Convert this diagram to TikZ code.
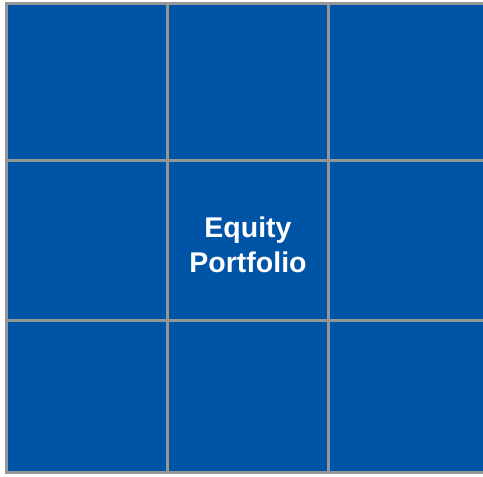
\documentclass[tikz,border=0pt]{standalone}
\usepackage{fontspec}
\setmainfont{Liberation Sans}
\definecolor{cellblue}{RGB}{0,84,166}
\definecolor{gridgray}{RGB}{150,150,150}
\begin{document}
\begin{tikzpicture}[x=1bp,y=-1bp,
  cell/.style={draw=gridgray,line width=3bp,fill=cellblue,inner sep=0pt,outer sep=0pt},
  celltext/.style={text=white,font=\bfseries\fontsize{28.6}{34.5}\selectfont,align=center}]
\useasboundingbox (0,0) rectangle (483,477);
\clip (0,0) rectangle (483,477);
% 3x3 grid of cells; column edges 6.5/167.5/328.5/489.5, row edges 3.5/160.5/320.5/472
\path[cell] (6.5,3.5) rectangle (167.5,160.5) node[midway] (c11) {};
\path[cell] (167.5,3.5) rectangle (328.5,160.5) node[midway] (c12) {};
\path[cell] (328.5,3.5) rectangle (489.5,160.5) node[midway] (c13) {};
\path[cell] (6.5,160.5) rectangle (167.5,320.5) node[midway] (c21) {};
\path[cell] (167.5,160.5) rectangle (328.5,320.5) node[midway] (c22) {};
\path[cell] (328.5,160.5) rectangle (489.5,320.5) node[midway] (c23) {};
\path[cell] (6.5,320.5) rectangle (167.5,472) node[midway] (c31) {};
\path[cell] (167.5,320.5) rectangle (328.5,472) node[midway] (c32) {};
\path[cell] (328.5,320.5) rectangle (489.5,472) node[midway] (c33) {};
\node[celltext] (label) at (248,245) {Equity\\Portfolio};
\end{tikzpicture}
\end{document}
